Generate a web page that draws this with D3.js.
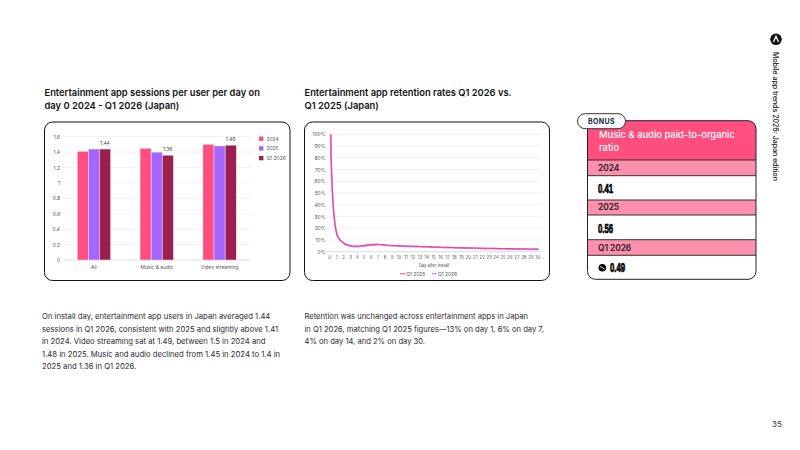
<!DOCTYPE html>
<html>
<head>
<meta charset="utf-8">
<script src="https://cdn.jsdelivr.net/npm/d3@7"></script>
<style>
html,body{margin:0;padding:0;background:#fff}
svg{display:block}
text{font-family:Inter,"Open Sans",sans-serif;fill:#1c1c24}
.axis path{display:none}
.axis line{display:none}
.axis text{fill:#555;font-size:4.9px;font-family:Inter,sans-serif}
.axis.days text{font-size:4.3px}
</style>
</head>
<body>
<svg id="page" width="800" height="450"></svg>
<script>
// Session data
const barCategories = ["All", "Music & audio", "Video streaming"];
const barSeriesNames = ["2024", "2025", "Q1 2026"];
const sessions2024 = [1.41, 1.45, 1.5];
const sessions2025 = [1.44, 1.4, 1.48];
const sessionsQ12026 = [1.44, 1.36, 1.49];
const barTicks = [0, 0.2, 0.4, 0.6, 0.8, 1, 1.2, 1.4, 1.6];
const barColors = ["#ff4f7e", "#a566ff", "#9c1f4f"];

// Retention data, days 0 to 30
const retentionNames = ["Q1 2025", "Q1 2026"];
const retentionDays = d3.range(0, 31);
const retentionQ12025 = [100, 13, 7, 5, 4.8, 5.6, 6.2, 6.4, 5.7, 5.3, 5, 4.8, 4.6, 4.4, 4.2, 4, 3.8, 3.7, 3.5, 3.4, 3.2, 3.1, 3, 2.9, 2.8, 2.7, 2.6, 2.5, 2.4, 2.3, 2.2];
const retentionQ12026 = [100, 13, 6.6, 4.5, 4.3, 5, 5.6, 5.9, 5.3, 5, 4.7, 4.5, 4.3, 4.2, 4, 3.8, 3.6, 3.4, 3.3, 3.1, 3, 2.9, 2.7, 2.6, 2.5, 2.4, 2.3, 2.2, 2.1, 2, 1.9];
const retentionTicks = [0, 10, 20, 30, 40, 50, 60, 70, 80, 90, 100];
const lineColors = ["#ff3f80", "#a566ff"];

// Paid-to-organic panel
const ratioYears = ["2024", "2025", "Q1 2026"];
const ratioValues = ["0.41", "0.56", "0.49"];

// Copy
const leftTitle = ["Entertainment app sessions per user per day on", "day 0 2024 - Q1 2026 (Japan)"];
const rightTitle = ["Entertainment app retention rates Q1 2026 vs.", "Q1 2025 (Japan)"];
const panelTitle = ["Music & audio paid-to-organic", "ratio"];
const leftBody = [
  "On install day, entertainment app users in Japan averaged 1.44",
  "sessions in Q1 2026, consistent with 2025 and slightly above 1.41",
  "in 2024. Video streaming sat at 1.49, between 1.5 in 2024 and",
  "1.48 in 2025. Music and audio declined from 1.45 in 2024 to 1.4 in",
  "2025 and 1.36 in Q1 2026."
];
const rightBody = [
  "Retention was unchanged across entertainment apps in Japan",
  "in Q1 2026, matching Q1 2025 figures\u201413% on day 1, 6% on day 7,",
  "4% on day 14, and 2% on day 30."
];

const svg = d3.select("#page");

function textBlock(parent, lines, x, y, lh, size, weight, fill) {
  parent.append("g").selectAll("text").data(lines).join("text")
    .attr("x", x).attr("y", (d, i) => y + i * lh)
    .attr("font-size", size).attr("font-weight", weight)
    .style("fill", fill || "#1c1c24")
    .text(d => d);
}

textBlock(svg, leftTitle, 44.5, 96, 12.8, 9.35, 600, "#111");
textBlock(svg, rightTitle, 304.5, 96, 12.8, 9.35, 600, "#111");
textBlock(svg, leftBody, 42, 319, 12.5, 7.7, 400, "#2a2a30");
textBlock(svg, rightBody, 304.5, 319, 12.5, 7.6, 400, "#2a2a30");

function card(x, y, w, h) {
  svg.append("rect").attr("x", x).attr("y", y).attr("width", w).attr("height", h)
    .attr("rx", 8).attr("fill", "#fff").attr("stroke", "#111").attr("stroke-width", 1);
}
card(44.5, 122, 245.5, 158.5);
card(304.5, 122, 245, 158.5);

// Grouped bars
const barX = d3.scaleBand().domain(barCategories).range([62.5, 251]);
const barSeries = d3.scaleBand().domain(barSeriesNames).range([0, 33.4]);
const barY = d3.scaleLinear().domain([0, 1.6]).range([260, 136.7]);
const barGroup = svg.append("g");

barGroup.append("g").selectAll("line").data(barTicks).join("line")
  .attr("x1", 62.5).attr("x2", 251)
  .attr("y1", d => barY(d)).attr("y2", d => barY(d))
  .attr("stroke", d => d === 0 ? "#dcdce8" : "#f1f1f4").attr("stroke-width", 1);

barGroup.append("g").attr("class", "axis")
  .attr("transform", "translate(60,0)")
  .call(d3.axisLeft(barY).tickValues(barTicks).tickFormat(d => String(d)).tickSize(0).tickPadding(0));

barGroup.append("g").attr("class", "axis")
  .attr("transform", "translate(0,263.5)")
  .call(d3.axisBottom(barX).tickSize(0).tickPadding(2.5));

[sessions2024, sessions2025, sessionsQ12026].forEach((values, s) => {
  barGroup.append("g").selectAll("rect").data(values).join("rect")
    .attr("x", (d, i) => barX(barCategories[i]) + barX.bandwidth() / 2 - 16.7 + barSeries(barSeriesNames[s]))
    .attr("y", d => barY(d))
    .attr("width", barSeries.bandwidth())
    .attr("height", d => 260 - barY(d))
    .attr("fill", barColors[s])
    .attr("stroke", "#f5e6f0").attr("stroke-width", 0.5);
});

barGroup.append("g").selectAll("text").data(sessionsQ12026).join("text")
  .attr("x", (d, i) => barX(barCategories[i]) + barX.bandwidth() / 2 + 11)
  .attr("y", d => barY(d) - 4.3)
  .attr("text-anchor", "middle").attr("font-size", 4.9).style("fill", "#444")
  .text(d => d.toFixed(2));

const barLegend = barGroup.append("g").selectAll("g").data(barSeriesNames).join("g")
  .attr("transform", (d, i) => `translate(259,${136.5 + i * 9.7})`);
barLegend.append("rect").attr("width", 4.4).attr("height", 4.4).attr("fill", (d, i) => barColors[i]);
barLegend.append("text").attr("x", 7.5).attr("y", 4.1).attr("font-size", 4.9).style("fill", "#555").text(d => d);

// Retention lines
const lineX = d3.scalePoint().domain(retentionDays).range([330.7, 538.7]);
const lineY = d3.scaleLinear().domain([0, 100]).range([251.7, 134.3]);
const lineGroup = svg.append("g");

lineGroup.append("g").selectAll("line").data(retentionTicks).join("line")
  .attr("x1", 327).attr("x2", 541)
  .attr("y1", d => lineY(d)).attr("y2", d => lineY(d))
  .attr("stroke", d => d === 0 ? "#dcdce8" : "#f1f1f4").attr("stroke-width", 1);

lineGroup.append("g").attr("class", "axis")
  .attr("transform", "translate(325.5,0)")
  .call(d3.axisLeft(lineY).tickValues(retentionTicks).tickFormat(d => d + "%").tickSize(0).tickPadding(0));

lineGroup.append("g").attr("class", "axis days")
  .attr("transform", "translate(-1.5,253.5)")
  .call(d3.axisBottom(lineX).tickSize(0).tickPadding(2));

const linePath = d3.line()
  .x((d, i) => lineX(retentionDays[i]))
  .y(d => lineY(d))
  .curve(d3.curveCatmullRom.alpha(0.5));

// The 2026 line sits underneath as a wider band so both stay visible where they overlap
[retentionQ12026, retentionQ12025].forEach((values, k) => {
  lineGroup.append("path").attr("d", linePath(values)).attr("fill", "none")
    .attr("stroke", k === 0 ? lineColors[1] : lineColors[0])
    .attr("stroke-width", k === 0 ? 1.7 : 1.1).attr("stroke-linejoin", "round")
    .attr("stroke-opacity", k === 0 ? 0.75 : 1);
});

lineGroup.append("text").attr("x", 434).attr("y", 267)
  .attr("text-anchor", "middle").attr("font-size", 4.2).style("fill", "#444").text("Day after install");

const lineLegend = lineGroup.append("g").selectAll("g").data(retentionNames).join("g")
  .attr("transform", (d, i) => `translate(${400 + i * 31.7},273.8)`);
lineLegend.append("line").attr("x2", 5).attr("stroke", (d, i) => lineColors[i]).attr("stroke-width", 1);
lineLegend.append("text").attr("x", 6.2).attr("y", 1.8).attr("font-size", 4.9).style("fill", "#555").text(d => d);

// Paid-to-organic panel
const panel = svg.append("g");
const panelLeft = 587.5, panelRight = 756, panelW = panelRight - panelLeft;
const panelTop = 120.7, panelBottom = 279.3;
const bandTops = [160, 200, 239.7];
const bandBottoms = [175.7, 215, 255.3];
const cellBottoms = [200, 239.7, 279.3];

panel.append("clipPath").attr("id", "panel-clip").append("rect")
  .attr("x", panelLeft).attr("y", panelTop).attr("width", panelW).attr("height", panelBottom - panelTop).attr("rx", 8);
const inner = panel.append("g").attr("clip-path", "url(#panel-clip)");
inner.append("rect").attr("x", panelLeft).attr("y", panelTop).attr("width", panelW).attr("height", panelBottom - panelTop).attr("fill", "#fff");
inner.append("rect").attr("x", panelLeft).attr("y", panelTop).attr("width", panelW).attr("height", 160 - panelTop).attr("fill", "#ff4f7e");

ratioYears.forEach((year, i) => {
  inner.append("rect").attr("x", panelLeft).attr("y", bandTops[i]).attr("width", panelW)
    .attr("height", bandBottoms[i] - bandTops[i]).attr("fill", "#ff90ad");
  [bandTops[i], bandBottoms[i]].forEach(y => {
    inner.append("line").attr("x1", panelLeft).attr("x2", panelRight).attr("y1", y).attr("y2", y)
      .attr("stroke", "#222").attr("stroke-width", 0.9);
  });
  panel.append("text").attr("x", 598).attr("y", bandBottoms[i] - 4.6)
    .attr("font-size", 8.3).attr("font-weight", 600).style("fill", "#1a1a22").text(year);
  const hasBadge = i === 2;
  panel.append("text")
    .attr("transform", `translate(${hasBadge ? 610 : 598},${cellBottoms[i] - 7}) scale(0.6,1)`)
    .attr("font-size", 13).attr("font-weight", 700)
    .style("font-family", "'Liberation Sans',sans-serif").style("fill", "#000")
    .style("stroke", "#000").style("stroke-width", 0.7)
    .text(ratioValues[i]);
});

panel.append("rect").attr("x", panelLeft).attr("y", panelTop).attr("width", panelW).attr("height", panelBottom - panelTop)
  .attr("rx", 8).attr("fill", "none").attr("stroke", "#222").attr("stroke-width", 1);

textBlock(panel, panelTitle, 599, 138.3, 12.8, 9.4, 500, "#fff");

// Small badge beside the latest ratio
panel.append("circle").attr("cx", 602.3).attr("cy", 267.7).attr("r", 3.8).attr("fill", "#000");
panel.append("line").attr("x1", 600).attr("y1", 266.4).attr("x2", 604.6).attr("y2", 269)
  .attr("stroke", "#fff").attr("stroke-width", 0.9);

panel.append("rect").attr("x", 577.5).attr("y", 113.7).attr("width", 48).attr("height", 15)
  .attr("rx", 7.5).attr("fill", "#fff").attr("stroke", "#222").attr("stroke-width", 0.9);
panel.append("text").attr("x", 601.5).attr("y", 124.1).attr("text-anchor", "middle")
  .attr("font-size", 7).attr("font-weight", 700).attr("letter-spacing", 0.4).style("fill", "#16233f").text("BONUS");

// Running header and page number
svg.append("circle").attr("cx", 776).attr("cy", 39.3).attr("r", 5.8).attr("fill", "#111");
svg.append("path").attr("d", d3.line()([[773.4, 42], [776, 36.4], [778.6, 42]]))
  .attr("fill", "none").attr("stroke", "#fff").attr("stroke-width", 1.3);
svg.append("text").attr("transform", "translate(773.2,52) rotate(90)")
  .attr("font-size", 7).attr("font-weight", 500).style("fill", "#111").text("Mobile app trends 2026: Japan edition");
svg.append("text").attr("x", 777).attr("y", 427).attr("text-anchor", "middle")
  .attr("font-size", 8).style("fill", "#333").text("35");
</script>
</body>
</html>
